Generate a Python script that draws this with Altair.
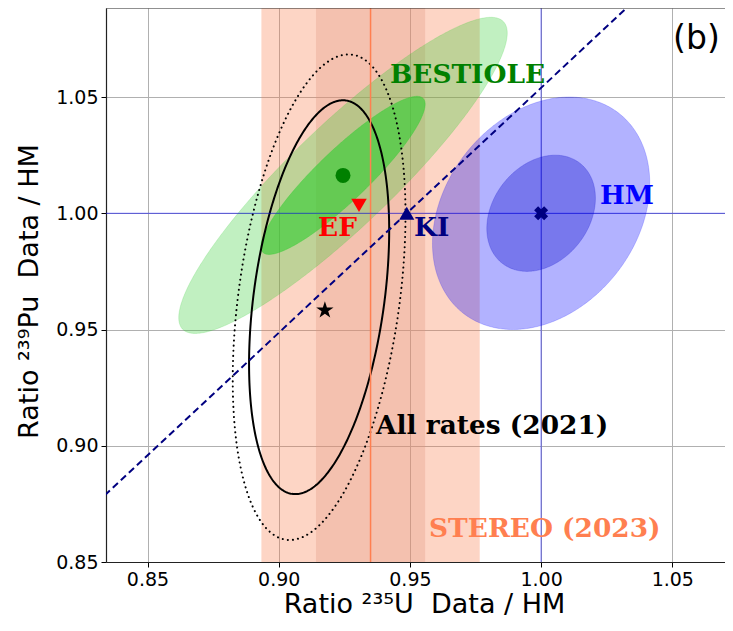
import altair as alt
import numpy as np
import pandas as pd

# ---------------- data ----------------
X_TICKS = [0.85, 0.90, 0.95, 1.00, 1.05]
Y_TICKS = [0.85, 0.90, 0.95, 1.00, 1.05]
X_DOMAIN = [0.83418, 1.07008]
Y_DOMAIN = [0.85, 1.0883]

# STEREO (2023) 235U measurement band
STEREO_CENTER = 0.935
STEREO_SIGMA = 0.0208
STEREO_LEVELS = [2, 1]

# correlated contours (centre, sigmas, correlation)
ELL_NAMES = ["HM", "BESTIOLE", "All rates (2021)"]
ELL_CX = [1.000, 0.9245, 0.9154]
ELL_CY = [1.000, 1.0163, 0.9639]
ELL_SX = [0.0207, 0.0313, 0.0267]
ELL_SY = [0.0250, 0.0340, 0.0847]
ELL_RHO = [0.26, 0.90, 0.34]
ALLRATES_LEVELS = [1.0, 1.233]

# best-fit points
PT_NAMES = ["HM", "BESTIOLE", "EF", "KI", "All rates (2021)"]
PT_X = [1.000, 0.9245, 0.9306, 0.9488, 0.9176]
PT_Y = [1.000, 1.0163, 1.0034, 1.000, 0.9583]

# labels
LBL_TEXT = ["BESTIOLE", "EF", "KI", "HM", "All rates (2021)", "STEREO (2023)"]
LBL_X = [0.9424, 0.9150, 0.9516, 1.0224, 0.9371, 0.9573]
LBL_Y = [1.0593, 0.9936, 0.9936, 1.0073, 0.9084, 0.8641]
LBL_COLOR = ["green", "red", "navy", "blue", "black", "coral"]

W, H = 619, 554
xs = alt.Scale(domain=X_DOMAIN, nice=False, zero=False)
ys = alt.Scale(domain=Y_DOMAIN, nice=False, zero=False)
x_axis = alt.Axis(values=X_TICKS, format=".2f", title="Ratio ²³⁵U \u00a0Data / HM",
                  titleX=318, titleY=29)
y_axis = alt.Axis(values=Y_TICKS, format=".2f", title="Ratio ²³⁹Pu \u00a0Data / HM",
                  titleX=-69, titleY=283, titleBaseline="alphabetic")


def ell_fill(i, k, n=240):
    t = np.linspace(0.0, np.pi, n)
    sx, sy, r = ELL_SX[i], ELL_SY[i], ELL_RHO[i]
    x = ELL_CX[i] + k * sx * np.cos(t)
    yc = ELL_CY[i] + r * k * sy * np.cos(t)
    half = k * sy * np.sqrt(1 - r * r) * np.sin(t)
    return pd.DataFrame({"x": x, "y": yc + half, "y2": yc - half})


def ell_loop(i, k, n=400):
    t = np.linspace(0.0, 2 * np.pi, n)
    sx, sy, r = ELL_SX[i], ELL_SY[i], ELL_RHO[i]
    x = ELL_CX[i] + k * sx * np.cos(t)
    y = ELL_CY[i] + k * sy * (r * np.cos(t) + np.sqrt(1 - r * r) * np.sin(t))
    return pd.DataFrame({"x": x, "y": y, "o": np.arange(n)})


X = lambda: alt.X("x:Q", scale=xs, axis=x_axis)
Y = lambda: alt.Y("y:Q", scale=ys, axis=y_axis)

layers = []

# STEREO bands (2 sigma coral, 1 sigma darker)
band = pd.DataFrame({
    "x": [STEREO_CENTER - k * STEREO_SIGMA for k in STEREO_LEVELS],
    "x2": [STEREO_CENTER + k * STEREO_SIGMA for k in STEREO_LEVELS],
    "c": ["outer", "inner"],
})
layers.append(alt.Chart(band).mark_rect(opacity=0.3).encode(
    x=X(), x2="x2:Q",
    color=alt.Color("c:N", scale=alt.Scale(domain=["outer", "inner"],
                                           range=["#F8733E", "#E2967F"]), legend=None)))

# filled contours (HM blue, BESTIOLE green)
fills = [(0, 2, "#0000FF", 0.30), (0, 1, "#0000C8", 0.32),
         (1, 2, "#32CD32", 0.30), (1, 1, "#32CD32", 0.62)]
for i, k, col, op in fills:
    layers.append(alt.Chart(ell_fill(i, k)).mark_area(color=col, opacity=op).encode(
        x=X(), y=Y(), y2="y2:Q"))
    layers.append(alt.Chart(ell_loop(i, k)).mark_line(color=col, opacity=op * 0.6, strokeWidth=1).encode(
        x=X(), y=Y(), order="o:Q"))

# All rates contours
layers.append(alt.Chart(ell_loop(2, ALLRATES_LEVELS[0])).mark_line(color="black", strokeWidth=2).encode(
    x=X(), y=Y(), order="o:Q"))
layers.append(alt.Chart(ell_loop(2, ALLRATES_LEVELS[1])).mark_line(
    color="black", strokeWidth=2, strokeDash=[0.1, 5], strokeCap="round").encode(
    x=X(), y=Y(), order="o:Q"))

# STEREO central value
layers.append(alt.Chart(pd.DataFrame({"x": [STEREO_CENTER]})).mark_rule(
    color="#FF7F50", strokeWidth=1.5).encode(x=X()))

# HM reference lines
layers.append(alt.Chart(pd.DataFrame({"x": [PT_X[0]]})).mark_rule(
    color="blue", opacity=0.45, strokeWidth=1.2).encode(x=X()))
layers.append(alt.Chart(pd.DataFrame({"y": [PT_Y[0]]})).mark_rule(
    color="blue", opacity=0.45, strokeWidth=1.2).encode(y=Y()))

# line through origin and KI
ki_slope = PT_Y[3] / PT_X[3]
lx = np.array([0.80, 1.10])
layers.append(alt.Chart(pd.DataFrame({"x": lx, "y": lx * ki_slope})).mark_line(
    color="navy", strokeWidth=2, strokeDash=[7, 4], clip=True).encode(x=X(), y=Y()))

# top spine
layers.append(alt.Chart(pd.DataFrame({"y": [Y_DOMAIN[1]]})).mark_rule(
    color="#222222", strokeWidth=1.2).encode(y=Y()))

# markers
star = "M0,-1L0.2245,-0.309L0.9511,-0.309L0.3633,0.118L0.5878,0.809L0,0.382L-0.5878,0.809L-0.3633,0.118L-0.9511,-0.309L-0.2245,-0.309Z"
markers = [(0, "cross", "navy", 200, 45), (1, "circle", "green", 225, 0),
           (2, "triangle-down", "red", 240, 0), (3, "triangle-up", "navy", 230, 0),
           (4, star, "black", 330, 0)]
for i, shp, col, sz, ang in markers:
    layers.append(alt.Chart(pd.DataFrame({"x": [PT_X[i]], "y": [PT_Y[i]]})).mark_point(
        shape=shp, filled=True, color=col, size=sz, angle=ang, opacity=1).encode(x=X(), y=Y()))

# labels
for t, x, y, c in zip(LBL_TEXT, LBL_X, LBL_Y, LBL_COLOR):
    layers.append(alt.Chart(pd.DataFrame({"x": [x], "y": [y], "t": [t]})).mark_text(
        font="DejaVu Serif", fontWeight="bold", fontSize=26.4, color=c,
        align="left", baseline="middle").encode(x=X(), y=Y(), text="t:N"))

layers.append(alt.Chart(pd.DataFrame({"x": [1.0503], "y": [1.0748], "t": ["(b)"]})).mark_text(
    font="DejaVu Sans", fontSize=33, color="black", align="left", baseline="middle").encode(
    x=X(), y=Y(), text="t:N"))

chart = alt.layer(*layers).properties(
    width=W, height=H,
    autosize=alt.AutoSizeParams(type="none"),
    padding={"left": 98, "top": 0, "right": 0, "bottom": 56},
).configure_view(stroke=None).configure_axis(
    labelFont="DejaVu Sans", labelFontSize=19, labelColor="black", labelPadding=3,
    tickColor="black", tickSize=5, tickWidth=1,
    domain=True, domainColor="#222222", domainWidth=1.2,
    grid=True, gridColor="#b0b0b0", gridWidth=1,
    titleFont="DejaVu Sans", titleFontSize=27, titleFontWeight="normal", titleColor="black",
)

chart.save("out.html", embed_options={"renderer": "svg", "actions": False})
